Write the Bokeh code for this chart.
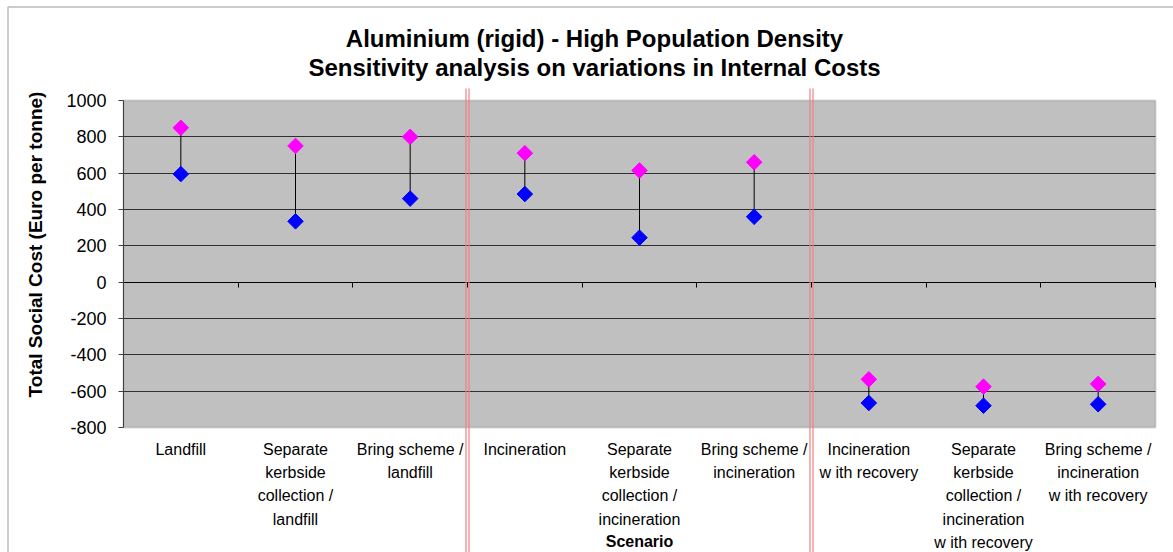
import math

from bokeh.embed import file_html
from bokeh.models import (BoxAnnotation, FixedTicker, Grid, Label, LinearAxis,
                          Range1d)
from bokeh.plotting import figure
from bokeh.resources import INLINE

# ---- data -----------------------------------------------------------------
scenarios = [
    "Landfill",
    "Separate\nkerbside\ncollection /\nlandfill",
    "Bring scheme /\nlandfill",
    "Incineration",
    "Separate\nkerbside\ncollection /\nincineration",
    "Bring scheme /\nincineration",
    "Incineration\nw ith recovery",
    "Separate\nkerbside\ncollection /\nincineration\nw ith recovery",
    "Bring scheme /\nincineration\nw ith recovery",
]
high_costs = [850, 750, 800, 710, 615, 660, -535, -575, -560]
low_costs = [595, 335, 460, 485, 245, 360, -665, -680, -672]
y_ticks = [-800, -600, -400, -200, 0, 200, 400, 600, 800, 1000]
group_edges = [3, 6]

title_lines = ["Aluminium (rigid) - High Population Density",
               "Sensitivity analysis on variations in Internal Costs"]
y_title = "Total Social Cost (Euro per tonne)"
x_title = "Scenario"

# ---- geometry ---------------------------------------------------------------
# The canvas is one big frame; the grey plot area sits inside it and the
# axes are pinned to its edges with fixed_location.
FONT = "Liberation Sans"
W, H = 1173, 552
AREA_L, AREA_T, AREA_W, AREA_H = 123, 100, 1032, 327
X0, X1 = 0, len(scenarios)
Y0, Y1 = y_ticks[0], y_ticks[-1]
XS = (X1 - X0) / AREA_W          # data units per pixel
YS = (Y1 - Y0) / AREA_H


def px_x(px):
    return X0 + (px - AREA_L) * XS


def px_y(py):
    return Y1 - (py - AREA_T) * YS


centers = [i + 0.5 for i in range(len(scenarios))]
boundaries = list(range(len(scenarios) + 1))

p = figure(
    frame_width=W, frame_height=H, min_border=0,
    x_range=Range1d(px_x(0), px_x(W)), y_range=Range1d(px_y(H), px_y(0)),
    x_axis_type=None, y_axis_type=None,
    output_backend="svg", toolbar_location=None,
)
p.background_fill_color = "white"
p.border_fill_color = "white"
p.outline_line_color = None

# grey plot area
p.add_layout(BoxAnnotation(
    left=X0, right=X1, bottom=Y0, top=Y1, level="image",
    fill_color="#c0c0c0", fill_alpha=1.0,
    line_color="#808080", line_width=2,
))

# horizontal gridlines
p.add_layout(Grid(dimension=1, ticker=FixedTicker(ticks=y_ticks[1:-1]),
                  cross_bounds=(X0, X1),
                  grid_line_color="#303030", grid_line_width=1))

# value axis
yaxis = LinearAxis(
    fixed_location=X0, bounds=(Y0, Y1),
    ticker=FixedTicker(ticks=y_ticks),
    major_label_overrides={t: str(t) for t in y_ticks},
    major_tick_out=5, major_tick_in=0, minor_tick_out=0, minor_tick_in=0,
    axis_line_color="#404040", major_tick_line_color="#404040",
    major_label_text_font=FONT, major_label_text_font_size="18px",
    major_label_text_color="black", major_label_standoff=12,
)
p.add_layout(yaxis, "left")

# scenario names under the plot area
xaxis = LinearAxis(
    fixed_location=Y0, bounds=(X0, X1),
    ticker=FixedTicker(ticks=centers),
    major_label_overrides={c: s for c, s in zip(centers, scenarios)},
    major_tick_out=0, major_tick_in=0, minor_tick_out=0, minor_tick_in=0,
    axis_line_color=None,
    major_label_text_font=FONT, major_label_text_font_size="16px",
    major_label_text_color="black", major_label_text_line_height=1.375,
    major_label_standoff=13,
)
p.add_layout(xaxis, "below")

# zero line with category separator ticks
zaxis = LinearAxis(
    fixed_location=0, bounds=(X0, X1),
    ticker=FixedTicker(ticks=boundaries),
    major_label_overrides={b: "" for b in boundaries},
    major_tick_out=5, major_tick_in=0, minor_tick_out=0, minor_tick_in=0,
    axis_line_color="black", major_tick_line_color="black",
)
p.add_layout(zaxis, "below")

# range whiskers and markers
p.segment(x0=centers, y0=low_costs, x1=centers, y1=high_costs,
          line_color="black", line_width=1)
p.scatter(x=centers, y=high_costs, marker="square", angle=math.pi / 4,
          size=11, fill_color="#ff00ff", line_color="#ff00ff", line_width=1)
p.scatter(x=centers, y=low_costs, marker="square", angle=math.pi / 4,
          size=11, fill_color="#0000ff", line_color="#0000ff", line_width=1)

# double red dividers between scenario groups
for edge in group_edges:
    for off_px in (-1.5, 1.5):
        cx = edge + off_px * XS
        p.add_layout(BoxAnnotation(
            left=cx - 0.6 * XS, right=cx + 0.6 * XS,
            top=px_y(88), bottom=px_y(H + 10),
            fill_color="#f08080", fill_alpha=1.0, line_color=None,
        ))

# chart border
p.add_layout(BoxAnnotation(
    left=px_x(7.5), right=px_x(W + 20), top=px_y(6.5), bottom=px_y(H + 20),
    fill_alpha=0, line_color="#222222", line_width=1.5,
))

# titles
for text, mid in zip(title_lines, (38, 66.5)):
    p.add_layout(Label(
        x=px_x(594), y=px_y(mid), text=text,
        text_font=FONT, text_font_size="24px", text_font_style="bold",
        text_align="center", text_baseline="middle", text_color="black",
    ))

p.add_layout(Label(
    x=px_x(35), y=px_y(244), text=y_title, angle=math.pi / 2,
    text_font=FONT, text_font_size="19px", text_font_style="bold",
    text_align="center", text_baseline="middle", text_color="black",
))

p.add_layout(Label(
    x=(X0 + X1) / 2, y=px_y(541), text=x_title,
    text_font=FONT, text_font_size="16px", text_font_style="bold",
    text_align="center", text_baseline="middle", text_color="black",
))

open("out.html", "w").write(file_html(p, INLINE))
